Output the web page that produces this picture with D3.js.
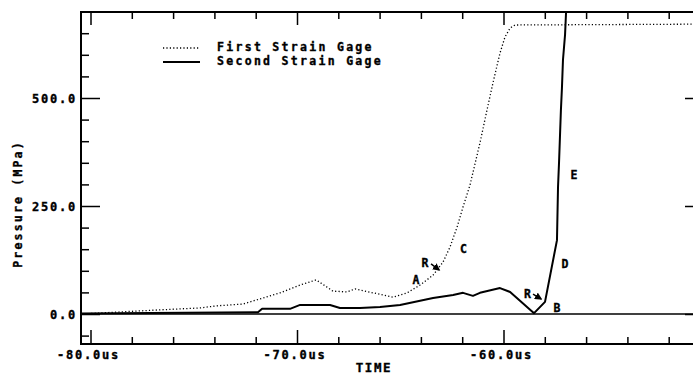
<!DOCTYPE html>
<html>
<head>
<meta charset="utf-8">
<script src="https://cdn.jsdelivr.net/npm/d3@7/dist/d3.min.js"></script>
<style>
  html, body { margin: 0; padding: 0; background: #fff; }
  svg { display: block; }
  text { font-family: "DejaVu Sans Mono", "Liberation Mono", monospace; font-weight: bold; fill: #000; stroke: #000; stroke-width: 0.35px; }
</style>
</head>
<body>
<svg id="chart" width="693" height="375"></svg>
<script>
// ---- data (time in microseconds, pressure in MPa) ----
const firstTime = [-80.46, -76.88, -74.70, -73.87, -72.62, -71.79, -70.82, -69.85, -69.07, -68.26,
  -67.58, -67.19, -66.32, -65.35, -64.67, -64.04, -63.41, -62.93, -62.59, -62.25,
  -61.96, -61.62, -61.14, -60.80, -60.51, -60.17, -59.93, -59.68, -59.44, -50.30];
const firstPressure = [0, 9, 14, 19, 23, 35, 49, 67, 79, 53,
  51, 58, 49, 39, 49, 67, 90, 120, 155, 201,
  248, 299, 396, 472, 535, 604, 641, 662, 669, 671];

const secondTime = [-80.46, -71.89, -71.69, -70.34, -69.85, -68.40, -67.92, -66.95, -65.98, -65.01,
  -63.41, -62.44, -61.96, -61.48, -61.14, -60.17, -59.68, -58.52, -57.99, -57.41,
  -57.36, -57.31, -57.22, -57.17, -57.12, -57.02, -56.97, -56.90];
const secondPressure = [1, 4, 12, 12, 21, 21, 14, 14, 16, 21,
  37, 44, 49, 42, 49, 60, 51, 2, 28, 171,
  294, 352, 472, 523, 588, 646, 699, 760];

const seriesNames = ["First Strain Gage", "Second Strain Gage"];
const xMajorTicks = [-80, -70, -60];
const xTickLabels = ["-80.0us", "-70.0us", "-60.0us"];
const yMajorTicks = [0, 250, 500];
const yTickLabels = ["0.0", "250.0", "500.0"];
const xMinorStep = 2;
const yMinorStep = 50;

const annoText = ["A", "R", "C", "D", "E", "B", "R"];
const annoTime = [-64.24, -63.80, -61.94, -57.02, -56.59, -57.41, -58.84];
const annoPressure = [79, 117, 150, 116, 322, 14, 47];
// arrows after the two "R" marks: [t, p]
const arrowFrom = [[-63.51, 116], [-58.57, 46]];
const arrowTo = [[-63.12, 102], [-58.18, 35]];

// ---- layout ----
const L = 81, R = 704, T = 12, B = 344;
const svg = d3.select("#chart");

const x = d3.scaleLinear().domain([-80, -60]).range([90.5, 503.5]);
const y = d3.scaleLinear().domain([0, 500]).range([314, 98]);
const xDom = [x.invert(L), x.invert(R)];
const yDom = [y.invert(B), y.invert(T)];

const defs = svg.append("defs");
defs.append("clipPath").attr("id", "clip")
  .append("rect").attr("x", L).attr("y", T).attr("width", R - L).attr("height", B - T);
defs.append("marker").attr("id", "ah").attr("viewBox", "0 0 10 10")
  .attr("refX", 8).attr("refY", 5).attr("markerWidth", 5).attr("markerHeight", 5)
  .attr("orient", "auto")
  .append("path").attr("d", "M0,0 L10,5 L0,10 z").attr("fill", "#000");

// ticks
const xMinor = d3.range(Math.ceil(xDom[0] / xMinorStep) * xMinorStep, xDom[1], xMinorStep)
  .filter(v => !xMajorTicks.includes(v));
const yMinor = d3.range(Math.ceil(yDom[0] / yMinorStep) * yMinorStep, yDom[1], yMinorStep)
  .filter(v => !yMajorTicks.includes(v));

function styleAxis(g) {
  g.select(".domain").remove();
  g.selectAll("line").attr("stroke", "#000").attr("stroke-width", 1.5);
}
// bottom
svg.append("g").attr("transform", `translate(0,${B})`)
  .call(d3.axisBottom(x).tickValues(xMinor).tickSize(-7).tickFormat("")).call(styleAxis);
svg.append("g").attr("transform", `translate(0,${B})`)
  .call(d3.axisBottom(x).tickValues(xMajorTicks).tickSize(-14).tickFormat("")).call(styleAxis);
// top
svg.append("g").attr("transform", `translate(0,${T})`)
  .call(d3.axisTop(x).tickValues(xMinor).tickSize(-7).tickFormat("")).call(styleAxis);
svg.append("g").attr("transform", `translate(0,${T})`)
  .call(d3.axisTop(x).tickValues(xMajorTicks).tickSize(-13).tickFormat("")).call(styleAxis);
// left
svg.append("g").attr("transform", `translate(${L},0)`)
  .call(d3.axisLeft(y).tickValues(yMinor).tickSize(-8).tickFormat("")).call(styleAxis);
svg.append("g").attr("transform", `translate(${L},0)`)
  .call(d3.axisLeft(y).tickValues(yMajorTicks).tickSize(-19).tickFormat("")).call(styleAxis);
// right
svg.append("g").attr("transform", `translate(${R},0)`)
  .call(d3.axisRight(y).tickValues(yMinor).tickSize(-8).tickFormat("")).call(styleAxis);
svg.append("g").attr("transform", `translate(${R},0)`)
  .call(d3.axisRight(y).tickValues(yMajorTicks).tickSize(-19).tickFormat("")).call(styleAxis);

// frame
svg.append("rect").attr("x", L).attr("y", T).attr("width", R - L).attr("height", B - T)
  .attr("fill", "none").attr("stroke", "#000").attr("stroke-width", 2);

// tick labels
svg.append("g").selectAll("text").data(xMajorTicks).join("text")
  .attr("x", d => x(d) - 2).attr("y", 359)
  .attr("text-anchor", "middle")
  .style("font-size", "12px").style("letter-spacing", "1.8px")
  .text((d, i) => xTickLabels[i]);
svg.append("g").selectAll("text").data(yMajorTicks).join("text")
  .attr("x", L - 4).attr("y", d => y(d) + 4.5)
  .attr("text-anchor", "end")
  .style("font-size", "12px").style("letter-spacing", "1.8px")
  .text((d, i) => yTickLabels[i]);

// axis titles
svg.append("text").attr("x", 374).attr("y", 372).attr("text-anchor", "middle")
  .style("font-size", "12.5px").style("letter-spacing", "1.6px").text("TIME");
svg.append("text").attr("transform", "translate(22,204) rotate(-90)").attr("text-anchor", "middle")
  .style("font-size", "11.5px").style("letter-spacing", "2.2px").text("Pressure (MPa)");

// lines
const plot = svg.append("g").attr("clip-path", "url(#clip)");
const line = d3.line().x(d => x(d[0])).y(d => y(d[1]));

plot.append("path").datum([[xDom[0], 0], [xDom[1], 0]])
  .attr("d", line).attr("fill", "none").attr("stroke", "#000").attr("stroke-width", 1.4);

plot.append("path").datum(firstTime.map((t, i) => [t, firstPressure[i]]))
  .attr("d", line).attr("fill", "none").attr("stroke", "#000")
  .attr("stroke-width", 1.3).attr("stroke-dasharray", "1.2,2.2");

plot.append("path").datum(secondTime.map((t, i) => [t, secondPressure[i]]))
  .attr("d", line).attr("fill", "none").attr("stroke", "#000")
  .attr("stroke-width", 2).attr("stroke-linejoin", "round");

// annotations
svg.append("g").selectAll("text").data(annoText).join("text")
  .attr("x", (d, i) => x(annoTime[i])).attr("y", (d, i) => y(annoPressure[i]) + 4)
  .attr("text-anchor", "middle").style("font-size", "11.5px")
  .text(d => d);
svg.append("g").selectAll("line").data(arrowFrom).join("line")
  .attr("x1", d => x(d[0])).attr("y1", d => y(d[1]))
  .attr("x2", (d, i) => x(arrowTo[i][0])).attr("y2", (d, i) => y(arrowTo[i][1]))
  .attr("stroke", "#000").attr("stroke-width", 1.5).attr("marker-end", "url(#ah)");

// legend
const leg = svg.append("g");
const legY = [48, 62];
leg.selectAll("line").data(seriesNames).join("line")
  .attr("x1", 163).attr("x2", 200).attr("y1", (d, i) => legY[i]).attr("y2", (d, i) => legY[i])
  .attr("stroke", "#000").attr("stroke-width", (d, i) => i ? 2 : 1.3)
  .attr("stroke-dasharray", (d, i) => i ? null : "1.2,2.2");
leg.selectAll("text").data(seriesNames).join("text")
  .attr("x", 217).attr("y", (d, i) => legY[i] + 3)
  .style("font-size", "11.5px").style("letter-spacing", "2.3px")
  .text(d => d);
</script>
</body>
</html>
